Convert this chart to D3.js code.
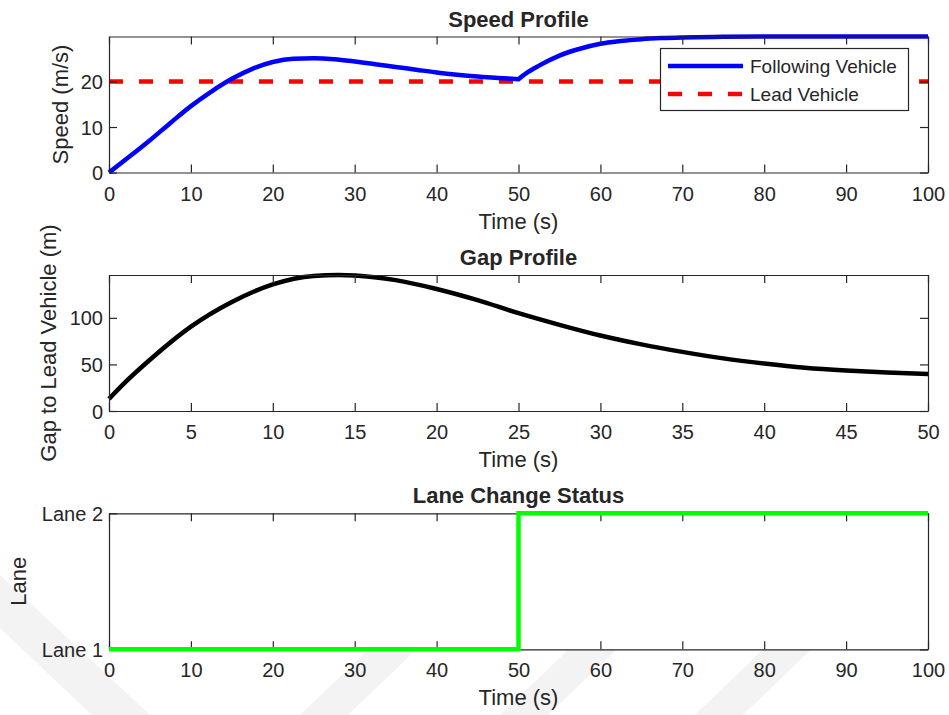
<!DOCTYPE html>
<html>
<head>
<meta charset="utf-8">
<script src="https://cdn.jsdelivr.net/npm/d3@7"></script>
<style>
  html, body { margin: 0; padding: 0; background: #fff; }
  svg { display: block; }
  text { font-family: "Liberation Sans", Arial, Helvetica, sans-serif; fill: #262626; }
</style>
</head>
<body>
<svg id="fig" width="949" height="715"></svg>
<script>
// ---- Speed profile (m/s) ----
const speedTime = [0, 2.5, 5, 7.5, 10, 12.5, 15, 17.5, 20, 22.5, 25, 27.5, 30, 32.5, 35, 37.5, 40, 42.5, 45, 47.5, 50,
                   51, 52.5, 55, 57.5, 60, 62.5, 65, 67.5, 70, 75, 80, 85, 90, 95, 100];
const followingSpeed = [0, 3.5, 7.1, 10.9, 14.6, 17.8, 20.6, 22.8, 24.3, 25.0, 25.1, 24.9, 24.4, 23.8, 23.2, 22.6, 22.0, 21.5, 21.1, 20.8, 20.5,
                        21.9, 23.5, 25.7, 27.2, 28.3, 28.9, 29.3, 29.55, 29.7, 29.82, 29.88, 29.9, 29.9, 29.9, 29.9];
const leadTime = [0, 100];
const leadSpeed = [20, 20];
const laneChangeTime = 50;

// ---- Gap to lead vehicle (m) ----
const gapTime = [0, 1, 2.5, 5, 7.5, 10, 12.5, 14, 15, 17.5, 20, 22.5, 25, 27.5, 30, 32.5, 35, 37.5, 40, 42.5, 45, 47.5, 50];
const gapValue = [13, 31, 55, 90.5, 117, 136, 145, 146, 145.5, 140.5, 131, 119, 105, 92.5, 81, 71.5, 63.5, 56.5, 51, 46.5, 43.5, 41.3, 39.8];

// ---- Lane status ----
const laneTime = [0, 50, 100];
const laneValue = [1, 2, 2];

// ---- Tick labels ----
const speedXTicks = [0, 10, 20, 30, 40, 50, 60, 70, 80, 90, 100];
const speedYTicks = [0, 10, 20];
const gapXTicks = [0, 5, 10, 15, 20, 25, 30, 35, 40, 45, 50];
const gapYTicks = [0, 50, 100];
const laneTicks = [1, 2];
const laneNames = ["Lane 1", "Lane 2"];
const legendNames = ["Following Vehicle", "Lead Vehicle"];

const svg = d3.select("#fig");
const INK = "#262626";
const TICK_FONT = 20, LABEL_FONT = 22, TITLE_FONT = 22;
const left = 109, right = 928, tickLen = 8;

// faint background chevrons
const wm = svg.append("g").attr("fill", "#f3f3f3");
[
  [[0, 575], [150, 715], [92, 715], [0, 628]],
  [[300, 715], [348, 715], [515, 555], [467, 555]],
  [[500, 715], [548, 715], [700, 570], [652, 570]],
  [[695, 715], [743, 715], [850, 612], [802, 612]]
].forEach(p => wm.append("polygon").attr("points", p.map(d => d.join(",")).join(" ")));

// draws a boxed axes with inward ticks on all four sides
function makeAxes(cfg) {
  const g = svg.append("g");
  const x = d3.scaleLinear().domain(cfg.xDomain).range([left, right]);
  const y = d3.scaleLinear().domain(cfg.yDomain).range([cfg.bottom, cfg.top]);

  g.append("rect").attr("x", left).attr("y", cfg.top)
    .attr("width", right - left).attr("height", cfg.bottom - cfg.top).attr("fill", "#fff");
  const plot = g.append("g");

  const bottomAxis = d3.axisBottom(x).tickValues(cfg.xTicks).tickSizeInner(-tickLen).tickSizeOuter(0).tickPadding(0);
  const topAxis = d3.axisTop(x).tickValues(cfg.xTicks).tickSizeInner(-tickLen).tickSizeOuter(0).tickFormat("");
  const leftAxis = d3.axisLeft(y).tickValues(cfg.yTicks).tickSizeInner(-tickLen).tickSizeOuter(0).tickPadding(0);
  const rightAxis = d3.axisRight(y).tickValues(cfg.yTicks).tickSizeInner(-tickLen).tickSizeOuter(0).tickFormat("");
  if (cfg.yFormat) leftAxis.tickFormat(cfg.yFormat);

  const axes = g.append("g");
  const gb = axes.append("g").attr("transform", `translate(0,${cfg.bottom})`).call(bottomAxis);
  const gt = axes.append("g").attr("transform", `translate(0,${cfg.top})`).call(topAxis);
  const gl = axes.append("g").attr("transform", `translate(${left},0)`).call(leftAxis);
  const gr = axes.append("g").attr("transform", `translate(${right},0)`).call(rightAxis);
  [gb, gt, gl, gr].forEach(a => {
    a.selectAll("path.domain").attr("stroke", INK).attr("stroke-width", 1.2);
    a.selectAll(".tick line").attr("stroke", INK).attr("stroke-width", 1.2);
    a.selectAll(".tick text").attr("font-size", TICK_FONT).attr("fill", INK)
      .attr("font-family", '"Liberation Sans", Arial, sans-serif');
  });
  gb.selectAll(".tick text").attr("dy", null).attr("y", 28);
  gl.selectAll(".tick text").attr("x", -6).attr("dy", "0.35em");

  g.append("text").attr("x", (left + right) / 2).attr("y", cfg.top - 10)
    .attr("text-anchor", "middle").attr("font-weight", "bold").attr("font-size", TITLE_FONT)
    .attr("fill", "#000").text(cfg.title);
  g.append("text").attr("x", (left + right) / 2).attr("y", cfg.bottom + 56)
    .attr("text-anchor", "middle").attr("font-size", LABEL_FONT).text(cfg.xLabel);
  g.append("text")
    .attr("transform", `translate(${cfg.yLabelX},${(cfg.top + cfg.bottom) / 2}) rotate(-90)`)
    .attr("text-anchor", "middle").attr("font-size", LABEL_FONT).text(cfg.yLabel);

  return { g, plot, axes, x, y };
}

// ---------- Panel 1: speed ----------
const p1 = makeAxes({
  xDomain: [0, 100], yDomain: [0, d3.max(followingSpeed)],
  top: 36.5, bottom: 172.5, xTicks: speedXTicks, yTicks: speedYTicks,
  title: "Speed Profile", xLabel: "Time (s)", yLabel: "Speed (m/s)", yLabelX: 68
});
const speedLine = d3.line().x(d => p1.x(d[0])).y(d => p1.y(d[1])).curve(d3.curveMonotoneX);
const leadLine = d3.line().x(d => p1.x(d[0])).y(d => p1.y(d[1]));
const leadPts = leadTime.map((t, i) => [t, leadSpeed[i]]);
p1.plot.append("path").attr("d", leadLine(leadPts)).attr("fill", "none")
  .attr("stroke", "#ff0000").attr("stroke-width", 4.5).attr("stroke-dasharray", "14,16");
// the following-vehicle trace is drawn in two pieces either side of the lane change
const followPts = speedTime.map((t, i) => [t, followingSpeed[i]]);
const before = followPts.filter(d => d[0] <= laneChangeTime);
const after = followPts.filter(d => d[0] >= laneChangeTime);
p1.plot.append("path").attr("d", speedLine(before) + speedLine(after).replace(/^M/, "L"))
  .attr("fill", "none").attr("stroke", "#0000ff").attr("stroke-width", 4.5)
  .attr("stroke-linejoin", "round");

// legend
const lg = p1.g.append("g");
lg.append("rect").attr("x", 660.5).attr("y", 48.5).attr("width", 248).attr("height", 62)
  .attr("fill", "#fff").attr("stroke", INK).attr("stroke-width", 1.2);
const legendStyles = [
  { color: "#0000ff", dash: null },
  { color: "#ff0000", dash: "14,16" }
];
legendNames.forEach((name, i) => {
  const ly = 66 + i * 28;
  lg.append("line").attr("x1", 668).attr("x2", 743).attr("y1", ly).attr("y2", ly)
    .attr("stroke", legendStyles[i].color).attr("stroke-width", 4.5)
    .attr("stroke-dasharray", legendStyles[i].dash);
  lg.append("text").attr("x", 750).attr("y", ly).attr("dy", "0.35em")
    .attr("font-size", 19).attr("fill", "#000").text(name);
});

// ---------- Panel 2: gap ----------
const p2 = makeAxes({
  xDomain: [0, 50], yDomain: [0, d3.max(gapValue)],
  top: 275, bottom: 411, xTicks: gapXTicks, yTicks: gapYTicks,
  title: "Gap Profile", xLabel: "Time (s)", yLabel: "Gap to Lead Vehicle (m)", yLabelX: 56
});
const gapLine = d3.line().x(d => p2.x(d[0])).y(d => p2.y(d[1])).curve(d3.curveMonotoneX);
p2.plot.append("path").attr("d", gapLine(gapTime.map((t, i) => [t, gapValue[i]])))
  .attr("fill", "none").attr("stroke", "#000").attr("stroke-width", 4.5);

// ---------- Panel 3: lane ----------
const p3 = makeAxes({
  xDomain: [0, 100], yDomain: [1, 2],
  top: 513.3, bottom: 649.3, xTicks: speedXTicks, yTicks: laneTicks,
  yFormat: d => laneNames[laneTicks.indexOf(d)],
  title: "Lane Change Status", xLabel: "Time (s)", yLabel: "Lane", yLabelX: 26
});
const laneLine = d3.line().x(d => p3.x(d[0])).y(d => p3.y(d[1])).curve(d3.curveStepAfter);
p3.g.append("path").attr("d", laneLine(laneTime.map((t, i) => [t, laneValue[i]])))
  .attr("fill", "none").attr("stroke", "#00ff00").attr("stroke-width", 4.5);
</script>
</body>
</html>
